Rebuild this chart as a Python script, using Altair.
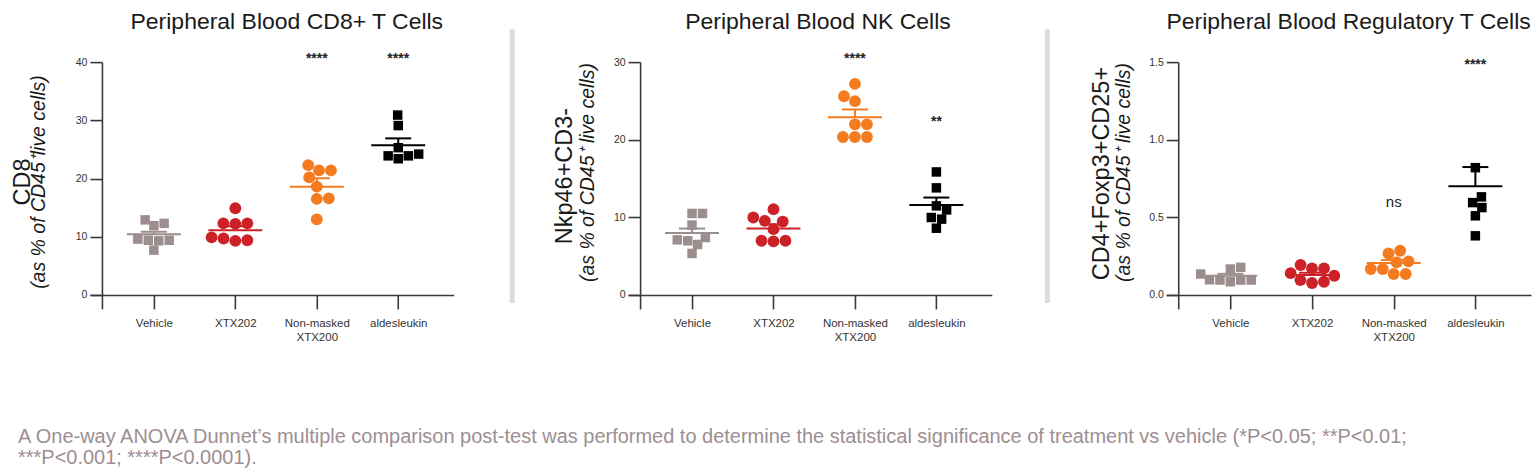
import json
import math
import altair as alt
import pandas as pd

# ---------------- data ----------------
categories = ["Vehicle", "XTX202", "Non-masked XTX200", "aldesleukin"]
tick_labels = [["Vehicle"], ["XTX202"], ["Non-masked", "XTX200"], ["aldesleukin"]]
group_colors = ["#9c8e8e", "#cd2128", "#f47b20", "#000000"]
group_markers = ["square", "circle", "circle", "square"]

# Peripheral Blood CD8+ T Cells
cd8_vehicle = [7.7, 9.3, 9.4, 9.4, 9.6, 11.9, 12.3, 12.9]
cd8_xtx202 = [9.3, 9.7, 9.4, 9.9, 12.2, 12.3, 12.3, 14.9]
cd8_nonmasked = [13.0, 16.6, 16.5, 18.6, 20.2, 21.4, 21.4, 22.3]
cd8_aldesleukin = [23.4, 25.3, 24.2, 23.9, 23.9, 29.1, 30.9]
cd8_mean = [10.45, 11.1, 18.6, 25.7]
cd8_sem = [0.41, 0.7, 1.45, 1.2]
cd8_ticks = [0, 10, 20, 30, 40]
cd8_sig_group = ["Non-masked XTX200", "aldesleukin"]
cd8_sig_text = ["****", "****"]
cd8_sig_value = [41.2, 41.2]

# Peripheral Blood NK Cells
nk_vehicle = [6.98, 10.5, 7.4, 9.0, 10.5, 6.5, 5.35, 7.1]
nk_xtx202 = [11.05, 9.46, 6.9, 9.98, 8.48, 6.98, 9.55, 6.98]
nk_nonmasked = [20.35, 21.98, 27.2, 24.97, 20.35, 21.98, 25.6, 20.35]
nk_aldesleukin = [8.6, 10.96, 15.85, 13.8, 9.98, 11.48, 9.77]
nk_mean = [7.97, 8.56, 22.9, 11.6]
nk_sem = [0.59, 0.55, 1.0, 0.95]
nk_ticks = [0, 10, 20, 30]
nk_sig_group = ["Non-masked XTX200", "aldesleukin"]
nk_sig_text = ["****", "**"]
nk_sig_value = [30.9, 22.8]

# Peripheral Blood Regulatory T Cells
treg_vehicle = [0.178, 0.096, 0.135, 0.167, 0.096, 0.096, 0.085, 0.098]
treg_xtx202 = [0.085, 0.141, 0.171, 0.096, 0.193, 0.124, 0.171, 0.077]
treg_nonmasked = [0.285, 0.21, 0.135, 0.167, 0.216, 0.135, 0.267, 0.167]
treg_aldesleukin = [0.82, 0.632, 0.563, 0.595, 0.51, 0.381]
treg_mean = [0.124, 0.128, 0.206, 0.70]
treg_sem = [0.012, 0.015, 0.019, 0.124]
treg_ticks = [0.0, 0.5, 1.0, 1.5]
treg_sig_group = ["aldesleukin", "Non-masked XTX200"]
treg_sig_text = ["****", "ns"]
treg_sig_value = [1.506, 0.593]

titles = ["Peripheral Blood CD8+ T Cells", "Peripheral Blood NK Cells",
          "Peripheral Blood Regulatory T Cells"]
y_main = ["CD8", "Nkp46+CD3-", "CD4+Foxp3+CD25+"]
y_sub = ["(as % of CD45\u207alive cells)", "(as % of CD45\u207a live cells)",
         "(as % of CD45\u207a live cells)"]
footnote = ("A One-way ANOVA Dunnet\u2019s multiple comparison post-test was performed to determine "
            "the statistical significance of treatment vs vehicle (*P<0.05; **P<0.01;\n"
            "***P<0.001; ****P<0.0001).")

panels = [
    dict(values=[cd8_vehicle, cd8_xtx202, cd8_nonmasked, cd8_aldesleukin], mean=cd8_mean,
         sem=cd8_sem, ticks=cd8_ticks, fmt="d", sig=(cd8_sig_group, cd8_sig_text, cd8_sig_value)),
    dict(values=[nk_vehicle, nk_xtx202, nk_nonmasked, nk_aldesleukin], mean=nk_mean,
         sem=nk_sem, ticks=nk_ticks, fmt="d", sig=(nk_sig_group, nk_sig_text, nk_sig_value)),
    dict(values=[treg_vehicle, treg_xtx202, treg_nonmasked, treg_aldesleukin], mean=treg_mean,
         sem=treg_sem, ticks=treg_ticks, fmt=".1f", sig=(treg_sig_group, treg_sig_text, treg_sig_value)),
]

# ---------------- layout / style ----------------
FONT = "Liberation Sans"
AXIS_COLOR = "#3a3a3a"
PLOT_W = [364, 364, 365]
PLOT_H = 247
ZERO_GAP = 14          # y-axis line extends below the x axis
XMIN, XMAX = -0.785, 3.681
SWARM_D = {"square": 10.5, "circle": 12.0}   # beeswarm min spacing (px)
MEAN_HALF, CAP_HALF = 27, 13
title_x = [197, 190, 182.5]
main_pos = [(-60, 120), (-56, 114), (-57, 111.5)]
sub_pos = [(-45, 120), (-34.5, 110.5), (-36, 110.5)]
sep_x = [None, -116, -119]


def swarm(px_vals, d):
    order = sorted(range(len(px_vals)), key=lambda i: px_vals[i])
    placed = []
    offs = [0.0] * len(px_vals)
    for i in order:
        y = px_vals[i]
        ivs = []
        for (x2, y2) in placed:
            dy = abs(y - y2)
            if dy < d:
                half = math.sqrt(d * d - dy * dy)
                ivs.append((x2 - half, x2 + half))
        ivs.sort()
        merged = []
        for a, b in ivs:
            if merged and a <= merged[-1][1]:
                merged[-1][1] = max(merged[-1][1], b)
            else:
                merged.append([a, b])
        x = 0.0
        for a, b in merged:
            if a < 0 < b:
                s = sum(p[0] for p in placed)
                if abs(abs(a) - b) < 0.5:
                    x = a if s > 0 else b
                else:
                    x = a if abs(a) < b else b
        placed.append((x, y))
        offs[i] = x
    return offs


label_expr = json.dumps(tick_labels) + "[datum.value]"
color = alt.Color("group:N", scale=alt.Scale(domain=categories, range=group_colors), legend=None)


def make_panel(k):
    p = panels[k]
    w = PLOT_W[k]
    ymax = p["ticks"][-1]
    ppu = (PLOT_H - ZERO_GAP) / ymax
    step = w / (XMAX - XMIN)
    ylo = -ymax * ZERO_GAP / (PLOT_H - ZERO_GAP)

    rows = []
    for gi, vals in enumerate(p["values"]):
        offs = swarm([v * ppu for v in vals], SWARM_D[group_markers[gi]])
        for v, o in zip(vals, offs):
            rows.append({"group": categories[gi], "marker": group_markers[gi],
                         "value": v, "x": gi + o / step})
    pts = pd.DataFrame(rows)

    stats = pd.DataFrame({
        "group": categories,
        "idx": list(range(4)),
        "mean": p["mean"],
        "top": [m + s for m, s in zip(p["mean"], p["sem"])],
    })
    stats["xl"] = stats["idx"] - MEAN_HALF / step
    stats["xr"] = stats["idx"] + MEAN_HALF / step
    stats["cl"] = stats["idx"] - CAP_HALF / step
    stats["cr"] = stats["idx"] + CAP_HALF / step

    sg, st, sv = p["sig"]
    sig = pd.DataFrame({"idx": [categories.index(g) for g in sg], "label": st, "value": sv})

    xs = alt.Scale(domain=[XMIN, XMAX], nice=False, zero=False)
    ys = alt.Scale(domain=[ylo, ymax], nice=False, zero=False)
    xaxis = alt.Axis(values=[0, 1, 2, 3], labelExpr=label_expr, title=None, offset=-ZERO_GAP,
                     tickSize=14, labelPadding=9, labelBaseline="top", labelLineHeight=14,
                     labelFontSize=11.5, grid=False, labelFlush=False, labelOverlap=False)
    yaxis = alt.Axis(values=p["ticks"], format=p["fmt"], title=None, offset=-12, tickSize=12,
                     labelPadding=3, labelFontSize=10.5, grid=False)

    def X(f):
        return alt.X(f, type="quantitative", scale=xs, axis=xaxis)

    def Y(f):
        return alt.Y(f, type="quantitative", scale=ys, axis=yaxis)

    base_s = alt.Chart(stats)
    mean_rule = base_s.mark_rule(strokeWidth=2).encode(x=X("xl"), x2="xr:Q", y=Y("mean"), color=color)
    sem_rule = base_s.mark_rule(strokeWidth=2).encode(x=X("idx"), y=Y("mean"), y2="top:Q", color=color)
    cap_rule = base_s.mark_rule(strokeWidth=2).encode(x=X("cl"), x2="cr:Q", y=Y("top"), color=color)

    squares = alt.Chart(pts).transform_filter(alt.datum.marker == "square").mark_point(
        shape="square", filled=True, size=90, opacity=1).encode(x=X("x"), y=Y("value"), color=color)
    circles = alt.Chart(pts).transform_filter(alt.datum.marker == "circle").mark_point(
        shape="circle", filled=True, size=140, opacity=1).encode(x=X("x"), y=Y("value"), color=color)

    stars = alt.Chart(sig).transform_filter(alt.datum.label != "ns").mark_text(
        font=FONT, fontSize=14, fontWeight="bold", color="#222", baseline="alphabetic", dy=8
    ).encode(x=X("idx"), y=Y("value"), text="label:N")
    ns = alt.Chart(sig).transform_filter(alt.datum.label == "ns").mark_text(
        font=FONT, fontSize=15, color="#222", baseline="alphabetic", dy=4
    ).encode(x=X("idx"), y=Y("value"), text="label:N")

    one = pd.DataFrame({"t": [0]})
    title = alt.Chart(one).mark_text(
        text=titles[k], font=FONT, fontSize=23, color="#1a1a1a", align="center", baseline="alphabetic"
    ).encode(x=alt.value(title_x[k]), y=alt.value(-33))
    ymain = alt.Chart(one).mark_text(
        text=y_main[k], font=FONT, fontSize=23.5, color="#1a1a1a", angle=270, align="center",
        baseline="alphabetic").encode(x=alt.value(main_pos[k][0]), y=alt.value(main_pos[k][1]))
    ysub = alt.Chart(one).mark_text(
        text=y_sub[k], font=FONT, fontSize=19.5, fontStyle="italic", color="#1a1a1a", angle=270,
        align="center", baseline="alphabetic").encode(x=alt.value(sub_pos[k][0]), y=alt.value(sub_pos[k][1]))

    layers = [mean_rule, sem_rule, cap_rule, squares, circles, stars, ns, title, ymain, ysub]
    if sep_x[k] is not None:
        sep = alt.Chart(one).mark_rule(color="#dcdcdc", strokeWidth=5).encode(
            x=alt.value(sep_x[k]), y=alt.value(-33), y2=alt.value(241))
        layers.append(sep)
    if k == 0:
        foot = alt.Chart(one).mark_text(
            text=footnote, lineBreak="\n", font=FONT, fontSize=20, lineHeight=20.5, color="#9d8e91",
            align="left", baseline="alphabetic").encode(x=alt.value(-72), y=alt.value(381.5))
        layers.append(foot)
    return alt.layer(*layers).properties(width=w, height=PLOT_H)


chart = alt.hconcat(make_panel(0), make_panel(1), make_panel(2), spacing=174.5, bounds="flush")
chart = chart.resolve_scale(x="independent", y="independent").properties(
    padding={"top": 3, "left": 3, "right": 0, "bottom": 0}, background="white"
).configure_view(stroke=None).configure_axis(
    domainColor=AXIS_COLOR, tickColor=AXIS_COLOR, domainWidth=1.6, tickWidth=1.6,
    labelColor="#333333", labelFont=FONT
)

chart.save("out.html", embed_options={"renderer": "svg", "actions": False})
